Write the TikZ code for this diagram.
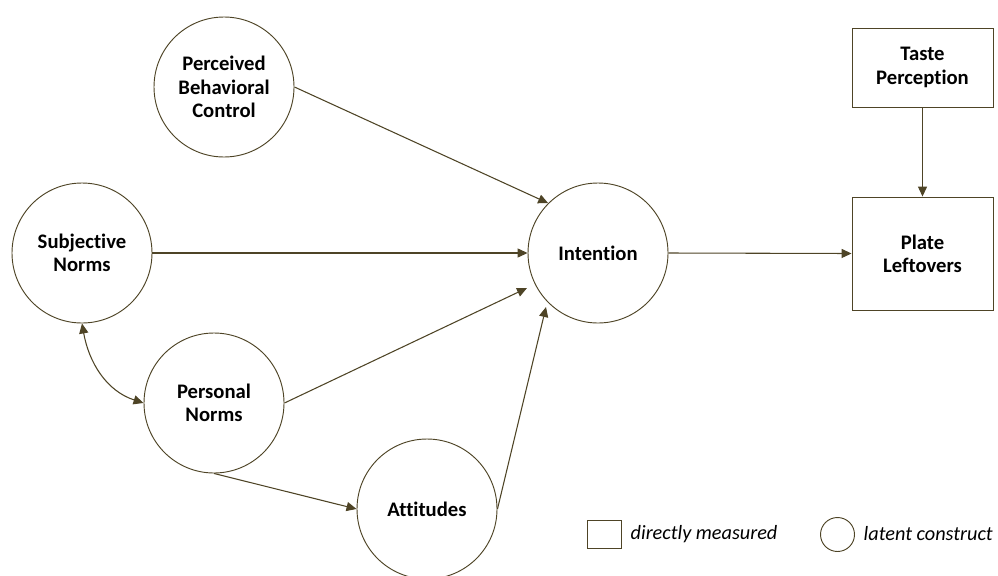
\documentclass[tikz,border=0pt]{standalone}
\usepackage{fontspec}
\setmainfont{Carlito}[Ligatures={NoCommon,NoRare,NoContextual}]
\usetikzlibrary{arrows.meta}
\definecolor{linebrown}{RGB}{78,68,38}
\begin{document}
\begin{tikzpicture}[x=0.75pt,y=-0.75pt,
  every node/.style={font=\fontsize{15.5}{17.5}\selectfont\bfseries, align=center, text=black},
  construct/.style={circle, draw=linebrown, line width=0.7pt, minimum size=105pt, inner sep=0pt},
  measured/.style={rectangle, draw=linebrown, line width=0.7pt, minimum width=105.75pt, inner sep=0pt},
  path/.style={draw=linebrown, line width=0.8pt, -{Triangle[length=7.5pt,width=6.8pt]}},
  legendtext/.style={font=\fontsize{15.2}{17.5}\selectfont\itshape, anchor=west}]
  \useasboundingbox (0,0) rectangle (998,575);
  \begin{scope}
  \clip (0,0) rectangle (998,575);
  % latent constructs
  \node[construct] (pbc) at (224,87) {Perceived\\Behavioral\\Control};
  \node[construct] (sn) at (82,253) {Subjective\\Norms};
  \node[construct] (pn) at (214,403) {Personal\\Norms};
  \node[construct] (att) at (427,509) {Attitudes};
  \node[construct] (int) at (598,253) {Intention};
  % directly measured variables
  \node[measured, minimum height=59.25pt] (taste) at (922.5,67.5) {Taste\\Perception};
  \node[measured, minimum height=84.75pt] (plate) at (922.5,253.5) {Plate\\Leftovers};
  % arrow end points beside the intention circle
  \coordinate (pnEnd) at (527,288);
  \coordinate (attEnd) at (546,307);
  % structural paths
  \draw[path] (pbc.east) -- (int.135);
  \draw[path] (sn.east) -- (int.west);
  \draw[path] (pn.east) -- (pnEnd);
  \draw[path] (att.east) -- (attEnd);
  \draw[path] (pn.south) -- (att.west);
  \draw[path] (int.east) -- (plate.west);
  \draw[path] (taste.south) -- (plate.north);
  \draw[path, {Triangle[length=7.5pt,width=6.8pt]}-{Triangle[length=7.5pt,width=6.8pt]}]
    (sn.south) to[out=-80, in=162] (pn.west);
  % legend
  \node[rectangle, draw=linebrown, line width=0.7pt, minimum width=25.5pt, minimum height=21pt, inner sep=0pt] (keybox) at (604,534) {};
  \node[legendtext] (keyboxtext) at (626,534) {directly measured};
  \node[circle, draw=linebrown, line width=0.7pt, minimum size=25.5pt, inner sep=0pt] (keycircle) at (837.5,534.5) {};
  \node[legendtext] (keycircletext) at (859,534) {latent construct};
  \end{scope}
\end{tikzpicture}
\end{document}
